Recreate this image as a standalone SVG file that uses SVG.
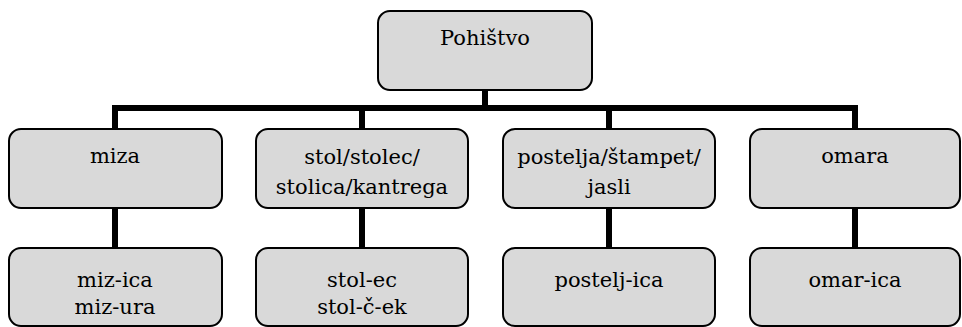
<svg xmlns="http://www.w3.org/2000/svg" width="962" height="327" viewBox="0 0 962 327">
<style>
.box{fill:#d9d9d9;stroke:#000;stroke-width:2}
.lbl{font-family:'DejaVu Serif',serif;font-size:21px;fill:#000;text-anchor:middle}
.con{fill:none;stroke:#000;stroke-width:6;stroke-linejoin:miter;stroke-linecap:butt}
</style>
<rect width="962" height="327" fill="#fff"/>
<g id="connectors">
<path class="con" d="M485,90 V108"/>
<path class="con" d="M115,130 V108 H855 V130"/>
<path class="con" d="M362,108 V130"/>
<path class="con" d="M609,108 V130"/>
<path class="con" d="M115,208 V249"/>
<path class="con" d="M362,208 V249"/>
<path class="con" d="M609,208 V249"/>
<path class="con" d="M855,208 V249"/>
</g>
<g id="root">
<rect class="box" x="378" y="11" width="214" height="79" rx="12"/>
<text class="lbl" x="485" y="45">Pohištvo</text>
</g>
<g id="miza">
<rect class="box" x="9" y="129" width="213" height="79" rx="12"/>
<text class="lbl" x="115" y="163">miza</text>
</g>
<g id="stol">
<rect class="box" x="256" y="129" width="212" height="79" rx="12"/>
<text class="lbl" x="362" y="164">stol/stolec/</text>
<text class="lbl" x="362" y="194">stolica/kantrega</text>
</g>
<g id="postelja">
<rect class="box" x="503" y="129" width="212" height="79" rx="12"/>
<text class="lbl" x="609" y="164">postelja/štampet/</text>
<text class="lbl" x="609" y="194">jasli</text>
</g>
<g id="omara">
<rect class="box" x="750" y="129" width="210" height="79" rx="12"/>
<text class="lbl" x="855" y="163">omara</text>
</g>
<g id="mizica">
<rect class="box" x="9" y="248" width="213" height="78" rx="12"/>
<text class="lbl" x="115" y="287">miz-ica</text>
<text class="lbl" x="115" y="314">miz-ura</text>
</g>
<g id="stolec">
<rect class="box" x="256" y="248" width="212" height="78" rx="12"/>
<text class="lbl" x="362" y="287">stol-ec</text>
<text class="lbl" x="362" y="314">stol-č-ek</text>
</g>
<g id="posteljica">
<rect class="box" x="503" y="248" width="212" height="78" rx="12"/>
<text class="lbl" x="609" y="287">postelj-ica</text>
</g>
<g id="omarica">
<rect class="box" x="750" y="248" width="210" height="78" rx="12"/>
<text class="lbl" x="855" y="287">omar-ica</text>
</g>
</svg>
